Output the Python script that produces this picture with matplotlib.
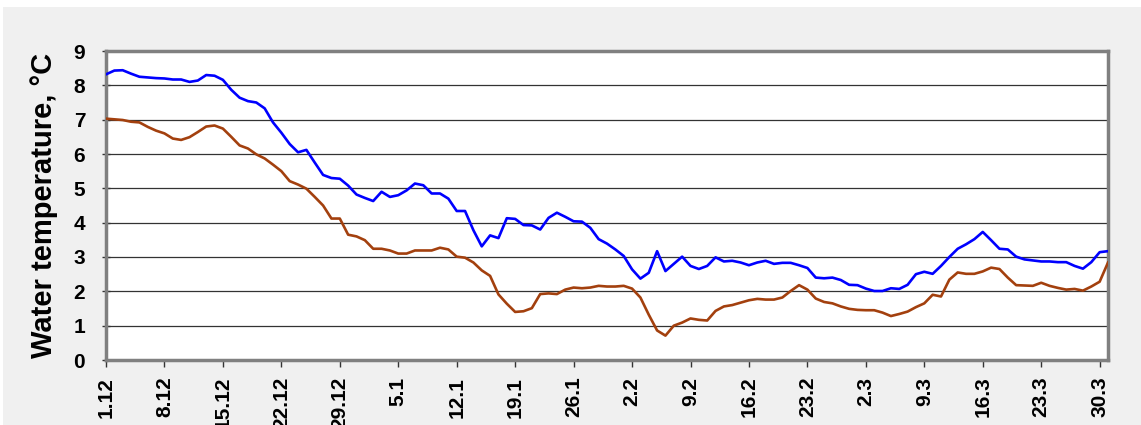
import matplotlib
matplotlib.use('Agg')
import matplotlib.pyplot as plt
from matplotlib.patches import Rectangle

# daily values, 1.12 .. 31.3 (121 days)
upper_temp = [
    8.32, 8.43, 8.44, 8.34, 8.25, 8.23, 8.21, 8.20, 8.17, 8.17,
    8.10, 8.14, 8.30, 8.28, 8.16, 7.87, 7.64, 7.54, 7.50, 7.33,
    6.92, 6.62, 6.29, 6.05, 6.12, 5.75, 5.39, 5.30, 5.28, 5.08,
    4.82, 4.72, 4.63, 4.90, 4.75, 4.80, 4.94, 5.14, 5.09, 4.85,
    4.85, 4.70, 4.34, 4.34, 3.78, 3.31, 3.63, 3.55, 4.13, 4.11,
    3.93, 3.92, 3.80, 4.14, 4.29, 4.17, 4.04, 4.03, 3.85, 3.52,
    3.39, 3.22, 3.03, 2.64, 2.37, 2.54, 3.17, 2.59, 2.80, 3.01,
    2.74, 2.65, 2.74, 2.99, 2.87, 2.89, 2.84, 2.76, 2.84, 2.89,
    2.80, 2.83, 2.83, 2.76, 2.68, 2.40, 2.38, 2.40, 2.33, 2.19,
    2.18, 2.08, 2.01, 2.01, 2.09, 2.07, 2.19, 2.50, 2.57, 2.51,
    2.74, 3.00, 3.24, 3.37, 3.52, 3.73, 3.49, 3.24, 3.22, 3.01,
    2.93, 2.90, 2.87, 2.87, 2.85, 2.85, 2.74, 2.66, 2.85, 3.14,
    3.17,
]
lower_temp = [
    7.03, 7.01, 6.99, 6.94, 6.92, 6.79, 6.68, 6.60, 6.45, 6.41,
    6.49, 6.64, 6.80, 6.83, 6.74, 6.50, 6.25, 6.16, 5.99, 5.87,
    5.69, 5.50, 5.21, 5.11, 4.99, 4.75, 4.50, 4.12, 4.12, 3.65,
    3.60, 3.49, 3.24, 3.24, 3.19, 3.10, 3.10, 3.19, 3.19, 3.19,
    3.27, 3.22, 3.01, 2.98, 2.84, 2.61, 2.45, 1.91, 1.64, 1.40,
    1.42, 1.51, 1.92, 1.94, 1.92, 2.05, 2.11, 2.09, 2.11, 2.16,
    2.14, 2.14, 2.16, 2.08, 1.82, 1.32, 0.86, 0.71, 1.00, 1.09,
    1.21, 1.17, 1.15, 1.43, 1.56, 1.60, 1.67, 1.74, 1.78, 1.76,
    1.76, 1.82, 2.01, 2.18, 2.05, 1.79, 1.69, 1.65, 1.56, 1.49,
    1.46, 1.45, 1.45, 1.38, 1.28, 1.34, 1.41, 1.54, 1.65, 1.90,
    1.85, 2.34, 2.55, 2.51, 2.51, 2.58, 2.69, 2.65, 2.40, 2.18,
    2.17, 2.16, 2.25, 2.16, 2.10, 2.05, 2.07, 2.02, 2.14, 2.28,
    2.84,
]
tick_labels = ['1.12', '8.12', '15.12', '22.12', '29.12', '5.1', '12.1', '19.1',
               '26.1', '2.2', '9.2', '16.2', '23.2', '2.3', '9.3', '16.3',
               '23.3', '30.3']

FONT = 'Liberation Sans'


def main():
    fig = plt.figure(figsize=(11.41, 4.25), dpi=100, facecolor='#f0f0f0')
    # thin white strips at the top and left edge of the picture
    fig.patches.append(Rectangle((0, 1 - 7 / 425), 1, 7 / 425, transform=fig.transFigure,
                                 facecolor='white', edgecolor='none', zorder=0))
    fig.patches.append(Rectangle((0, 0), 3 / 1141, 1, transform=fig.transFigure,
                                 facecolor='white', edgecolor='none', zorder=0))

    ax = fig.add_axes([106 / 1141, 1 - 360 / 425, (1108 - 106) / 1141, (360 - 51) / 425])
    ax.set_facecolor('white')

    days = range(len(upper_temp))
    ax.plot(days, upper_temp, color='#0000ff', lw=1.9, zorder=3)
    ax.plot(days, lower_temp, color='#a3400e', lw=1.9, zorder=3)

    ax.set_xlim(0, len(upper_temp) - 1)
    ax.set_ylim(0, 9)
    ax.set_yticks(range(10))
    ax.set_xticks(range(0, 7 * len(tick_labels), 7))
    ax.set_xticklabels(tick_labels, rotation=90, fontsize=15, fontweight='bold',
                       family=FONT)
    for lbl in ax.get_yticklabels():
        lbl.set_fontsize(15)
        lbl.set_fontweight('bold')
        lbl.set_family(FONT)

    ax.grid(axis='y', color='#333333', lw=0.9)
    ax.set_axisbelow(True)
    ax.tick_params(axis='x', direction='out', length=5, width=1, color='#333333', pad=7)
    ax.tick_params(axis='y', direction='inout', length=6, width=1, color='#333333', pad=12)

    for s in ax.spines.values():
        s.set_color('#808080')
        s.set_linewidth(2.5)

    ax.set_ylabel('Water temperature, \u00b0C', fontsize=21, fontweight='bold',
                  family=FONT, labelpad=8)
    ax.yaxis.set_label_coords(-48 / 1002, 0.5)

    fig.savefig('out.png', dpi=100, facecolor=fig.get_facecolor())


if __name__ == '__main__':
    main()
